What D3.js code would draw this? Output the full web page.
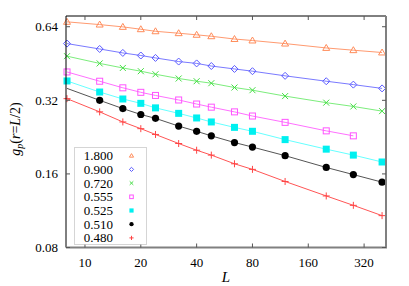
<!DOCTYPE html>
<html>
<head>
<meta charset="utf-8">
<script src="https://cdn.jsdelivr.net/npm/d3@7"></script>
<style>
  body { margin: 0; background: #fff; }
  svg text { font-family: "Liberation Serif", "DejaVu Serif", serif; }
</style>
</head>
<body>
<div id="plot"></div>
<script>
// system sizes L and the measured g_p(r=L/2) for each coupling
var sizes = [8, 12, 16, 20, 24, 32, 40, 48, 64, 80, 120, 200, 280, 400];

var g1800 = [0.670, 0.653, 0.639, 0.625, 0.613, 0.602, 0.593, 0.585, 0.570, 0.562, 0.546, 0.524, 0.513, 0.502];
var g0900 = [0.546, 0.519, 0.500, 0.488, 0.477, 0.461, 0.453, 0.442, 0.430, 0.421, 0.403, 0.383, 0.371, 0.358];
var g0720 = [0.485, 0.453, 0.434, 0.421, 0.409, 0.393, 0.383, 0.376, 0.361, 0.352, 0.333, 0.313, 0.302, 0.289];
var g0555 = [0.418, 0.383, 0.360, 0.345, 0.335, 0.321, 0.309, 0.300, 0.287, 0.276, 0.260, 0.240, 0.229];
var g0525 = [0.384, 0.346, 0.324, 0.311, 0.298, 0.283, 0.271, 0.261, 0.248, 0.239, 0.221, 0.202, 0.191, 0.179];
var g0510 = [null, 0.320, 0.296, 0.280, 0.270, 0.251, 0.239, 0.229, 0.215, 0.206, 0.190, 0.170, 0.159, 0.148];
var g0480 = [0.325, 0.287, 0.261, 0.245, 0.232, 0.213, 0.200, 0.191, 0.176, 0.167, 0.149, 0.130, 0.119, 0.108];

// the 0.510 curve is drawn from L=8 although there is no point there
var g0510_lineStart = 0.358;

var labels = ["1.800", "0.900", "0.720", "0.555", "0.525", "0.510", "0.480"];
var xTicks = [10, 20, 40, 80, 160, 320];
var yTicks = [0.08, 0.16, 0.32, 0.64];

var series = [
    {name: labels[0], vals: g1800, sym: "tri",     line: "#ff9a70", mark: "#ff8c5a"},
    {name: labels[1], vals: g0900, sym: "diamond", line: "#7a7aff", mark: "#5a5aff"},
    {name: labels[2], vals: g0720, sym: "cross",   line: "#7ced7c", mark: "#44dd44"},
    {name: labels[3], vals: g0555, sym: "square",  line: "#ff70ff", mark: "#ff55ff"},
    {name: labels[4], vals: g0525, sym: "fsquare", line: "#66ffff", mark: "#00f0f0"},
    {name: labels[5], vals: g0510, sym: "circle",  line: "#555555", mark: "#000000", start: g0510_lineStart},
    {name: labels[6], vals: g0480, sym: "plus",    line: "#ff5555", mark: "#ff4444"}
];

var width = 409,
    height = 286,
    margin = {left: 66, top: 16, right: 23, bottom: 38.5};

var svg = d3.select("#plot")
    .append("svg")
    .attr("width", width)
    .attr("height", height);

var xScale = d3.scaleLog()
    .domain([7.9, 420])
    .range([margin.left, width - margin.right]);

var yScale = d3.scaleLog()
    .domain([0.08, 0.708])
    .range([height - margin.bottom, margin.top]);

var x0 = margin.left, x1 = width - margin.right,
    y0 = height - margin.bottom, y1 = margin.top;

// curves
var line = d3.line()
    .x(function(d){ return xScale(d[0]); })
    .y(function(d){ return yScale(d[1]); });

series.forEach(function(s){
    var pts = [];
    for (var i = 0; i < s.vals.length; i++){
        if (s.vals[i] != null) pts.push([sizes[i], s.vals[i]]);
        else if (i == 0 && s.start) pts.push([sizes[0], s.start]);
    }
    svg.append("path")
        .attr("d", line(pts))
        .attr("fill", "none")
        .attr("stroke", s.line)
        .attr("stroke-width", 1);
});

function drawSymbol(g, sym, color, cx, cy, k){
    k = k || 1;
    var r = 3 * k, h = 3.5 * k;
    if (sym == "tri"){
        g.append("path").attr("d", `M${cx},${cy-h}L${cx+h},${cy+h*0.7}L${cx-h},${cy+h*0.7}Z`)
            .attr("fill", "none").attr("stroke", color);
    } else if (sym == "diamond"){
        g.append("path").attr("d", `M${cx},${cy-h}L${cx+h},${cy}L${cx},${cy+h}L${cx-h},${cy}Z`)
            .attr("fill", "none").attr("stroke", color);
    } else if (sym == "cross"){
        g.append("path").attr("d", `M${cx-r},${cy-r}L${cx+r},${cy+r}M${cx-r},${cy+r}L${cx+r},${cy-r}`)
            .attr("stroke", color);
    } else if (sym == "square"){
        g.append("rect").attr("x", cx-r).attr("y", cy-r).attr("width", 2*r).attr("height", 2*r)
            .attr("fill", "none").attr("stroke", color);
    } else if (sym == "fsquare"){
        g.append("rect").attr("x", cx-h).attr("y", cy-h).attr("width", 2*h).attr("height", 2*h)
            .attr("fill", color);
    } else if (sym == "circle"){
        g.append("circle").attr("cx", cx).attr("cy", cy).attr("r", 3.6 * k).attr("fill", color);
    } else if (sym == "plus"){
        g.append("path").attr("d", `M${cx-h},${cy}L${cx+h},${cy}M${cx},${cy-h}L${cx},${cy+h}`)
            .attr("stroke", color);
    }
}

// points
series.forEach(function(s){
    var g = svg.append("g");
    s.vals.forEach(function(v, i){
        if (v == null) return;
        drawSymbol(g, s.sym, s.mark, xScale(sizes[i]), yScale(v));
    });
});

// frame: top/left black, right/bottom gray
svg.append("path").attr("d", `M${x0},${y0}V${y1}H${x1}`)
    .attr("fill", "none").attr("stroke", "#000").attr("stroke-width", 1);
svg.append("path").attr("d", `M${x0},${y0}H${x1}V${y1}`)
    .attr("fill", "none").attr("stroke", "#808080").attr("stroke-width", 2);

// ticks (inward, mirrored)
var tk = 4;
xTicks.forEach(function(t){
    var x = xScale(t);
    svg.append("path").attr("d", `M${x},${y0}v${-tk}M${x},${y1}v${tk}`)
        .attr("stroke", "#555").attr("stroke-width", 1);
    svg.append("text").attr("x", x).attr("y", y0 + 19)
        .attr("text-anchor", "middle").attr("font-size", 13).text(t);
});
yTicks.forEach(function(t){
    var y = yScale(t);
    svg.append("path").attr("d", `M${x0},${y}h${tk}M${x1},${y}h${-tk}`)
        .attr("stroke", "#555").attr("stroke-width", 1);
    svg.append("text").attr("x", x0 - 8).attr("y", y + 4.5)
        .attr("text-anchor", "end").attr("font-size", 13).text(t.toFixed(2));
});

// axis titles
svg.append("text")
    .attr("x", (x0 + x1) / 2).attr("y", 282)
    .attr("text-anchor", "middle").attr("font-size", 15)
    .attr("font-style", "italic").text("L");

var ylab = svg.append("text")
    .attr("transform", "translate(20,129) rotate(-90)")
    .attr("text-anchor", "middle").attr("font-size", 14);
ylab.append("tspan").attr("font-style", "italic").text("g");
ylab.append("tspan").attr("font-style", "italic").attr("font-size", 10).attr("dy", 3).text("p");
ylab.append("tspan").attr("dy", -3).text("(");
ylab.append("tspan").attr("font-style", "italic").text("r");
ylab.append("tspan").text("=");
ylab.append("tspan").attr("font-style", "italic").text("L");
ylab.append("tspan").text("/2)");

// legend
var lg = svg.append("g");
lg.append("rect")
    .attr("x", 74.5).attr("y", 147.5).attr("width", 72).attr("height", 97)
    .attr("fill", "#fff").attr("stroke", "#aaa").attr("stroke-width", 1)
    .attr("stroke-dasharray", "1,1");
series.forEach(function(s, i){
    var y = 155.7 + i * 13.7;
    lg.append("text").attr("x", 113).attr("y", y + 4.5)
        .attr("text-anchor", "end").attr("font-size", 13).text(s.name);
    drawSymbol(lg, s.sym, s.mark, 131.5, y, 0.6);
});
</script>
</body>
</html>
